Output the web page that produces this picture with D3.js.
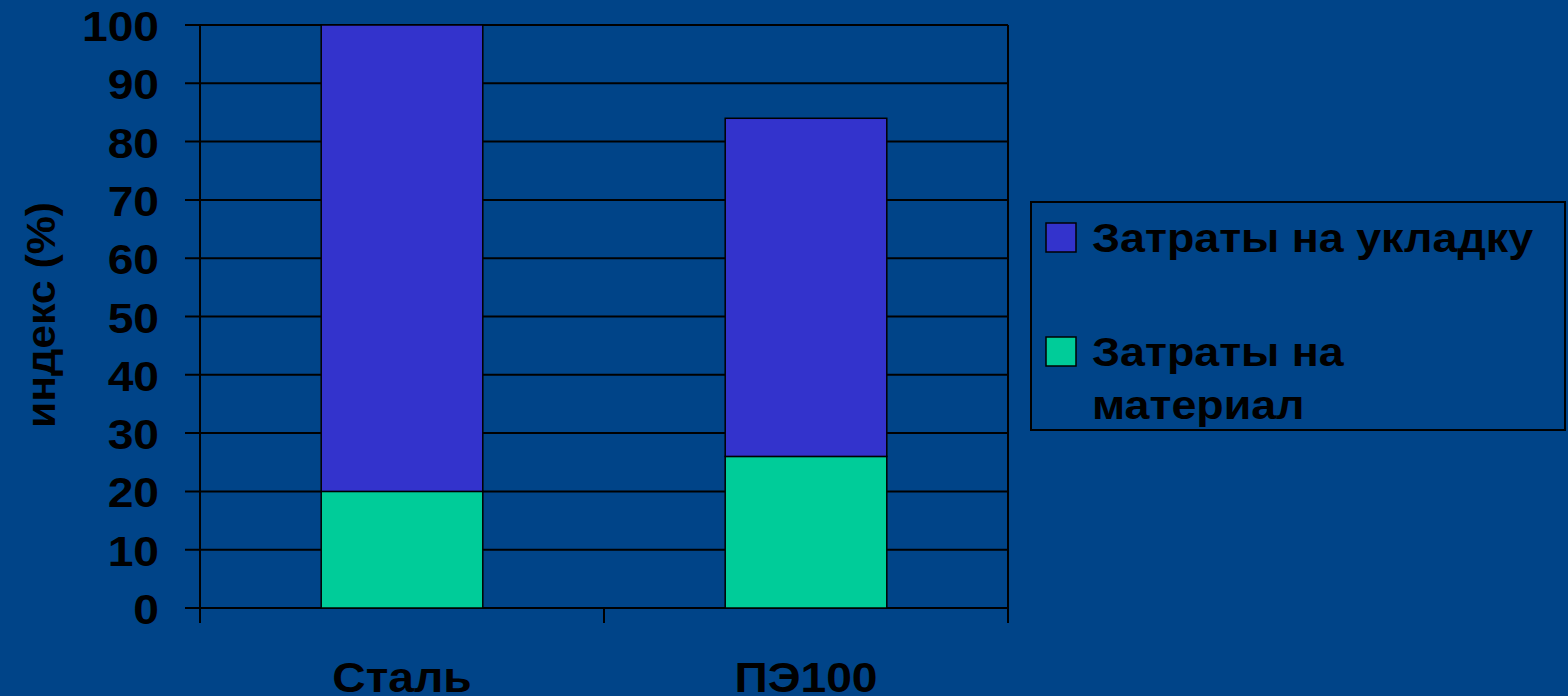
<!DOCTYPE html>
<html>
<head>
<meta charset="utf-8">
<script src="https://cdn.jsdelivr.net/npm/d3@7"></script>
<style>
  html, body { margin: 0; padding: 0; background: #004488; }
  svg { display: block; }
  text { font-family: "Liberation Sans", Arial, sans-serif; font-weight: bold; fill: #000; }
</style>
</head>
<body>
<svg id="chart" width="1568" height="696"></svg>
<script>
// Cost index by pipe material
const categories = ["Сталь", "ПЭ100"];
const materialCost = [20, 26];   // Затраты на материал
const layingCost = [80, 58];     // Затраты на укладку
const yTicks = [0, 10, 20, 30, 40, 50, 60, 70, 80, 90, 100];
const seriesNames = ["Затраты на укладку", "Затраты на материал"];
const seriesColors = ["#3333CC", "#00CC99"];

const svg = d3.select("#chart");
const plotLeft = 200, plotRight = 1008, plotTop = 25, plotBottom = 608;
const widen = 1.1; // slightly wide lettering

const x = d3.scaleBand().domain(categories).range([plotLeft, plotRight]).padding(0);
const y = d3.scaleLinear().domain([0, 100]).range([plotBottom, plotTop]);
const barW = x.bandwidth() / 2.5;

// horizontal gridlines with outer ticks
svg.append("g").selectAll("line").data(yTicks).join("line")
  .attr("x1", plotLeft - 15).attr("x2", plotRight)
  .attr("y1", d => y(d)).attr("y2", d => y(d))
  .attr("stroke", "#000").attr("stroke-width", 2);

// y tick labels
svg.append("g").selectAll("text").data(yTicks).join("text")
  .attr("transform", d => `translate(159,${y(d) + 16}) scale(${widen},1)`)
  .attr("text-anchor", "end")
  .style("font-size", "42px")
  .text(d => d);

// left axis line, right border and category boundary ticks
const bounds = [plotLeft].concat(categories.map(c => x(c) + x.bandwidth()));
svg.append("g").selectAll("line").data(bounds).join("line")
  .attr("x1", d => d).attr("x2", d => d)
  .attr("y1", (d, i) => (i === 0 || i === bounds.length - 1) ? plotTop : plotBottom)
  .attr("y2", plotBottom + 15)
  .attr("stroke", "#000").attr("stroke-width", 2);

// stacked bars
const stacks = categories.map((c, i) => ({
  cat: c,
  parts: [
    { v0: 0, v1: materialCost[i], color: seriesColors[1] },
    { v0: materialCost[i], v1: materialCost[i] + layingCost[i], color: seriesColors[0] }
  ]
}));
const barG = svg.append("g").selectAll("g").data(stacks).join("g");
barG.selectAll("rect").data(d => d.parts.map(p => Object.assign({ cat: d.cat }, p))).join("rect")
  .attr("x", d => x(d.cat) + (x.bandwidth() - barW) / 2)
  .attr("width", barW)
  .attr("y", d => y(d.v1))
  .attr("height", d => y(d.v0) - y(d.v1))
  .attr("fill", d => d.color)
  .attr("stroke", "#000").attr("stroke-width", 1.5);

// category labels
svg.append("g").selectAll("text").data(categories).join("text")
  .attr("transform", d => `translate(${x(d) + x.bandwidth() / 2},692) scale(${widen},1)`)
  .attr("text-anchor", "middle")
  .style("font-size", "42px")
  .text(d => d);

// y axis title
svg.append("text")
  .attr("transform", "translate(55,315) rotate(-90) scale(1.07,1)")
  .attr("text-anchor", "middle")
  .style("font-size", "40px")
  .text("индекс (%)");

// legend
const lg = svg.append("g");
lg.append("rect").attr("x", 1031).attr("y", 202).attr("width", 534).attr("height", 228)
  .attr("fill", "none").attr("stroke", "#000").attr("stroke-width", 2);
const legendRows = [
  { color: seriesColors[0], y: 223, lines: ["Затраты на укладку"] },
  { color: seriesColors[1], y: 337, lines: ["Затраты на", "материал"] }
];
legendRows.forEach(r => {
  lg.append("rect").attr("x", 1046).attr("y", r.y).attr("width", 30).attr("height", 29)
    .attr("fill", r.color).attr("stroke", "#000").attr("stroke-width", 1.5);
  const t = lg.append("text")
    .attr("transform", `translate(1092,${r.y + 29}) scale(1.12,1)`)
    .style("font-size", "40px");
  r.lines.forEach((ln, i) => t.append("tspan").attr("x", 0).attr("dy", i === 0 ? 0 : 53).text(ln));
});
</script>
</body>
</html>
